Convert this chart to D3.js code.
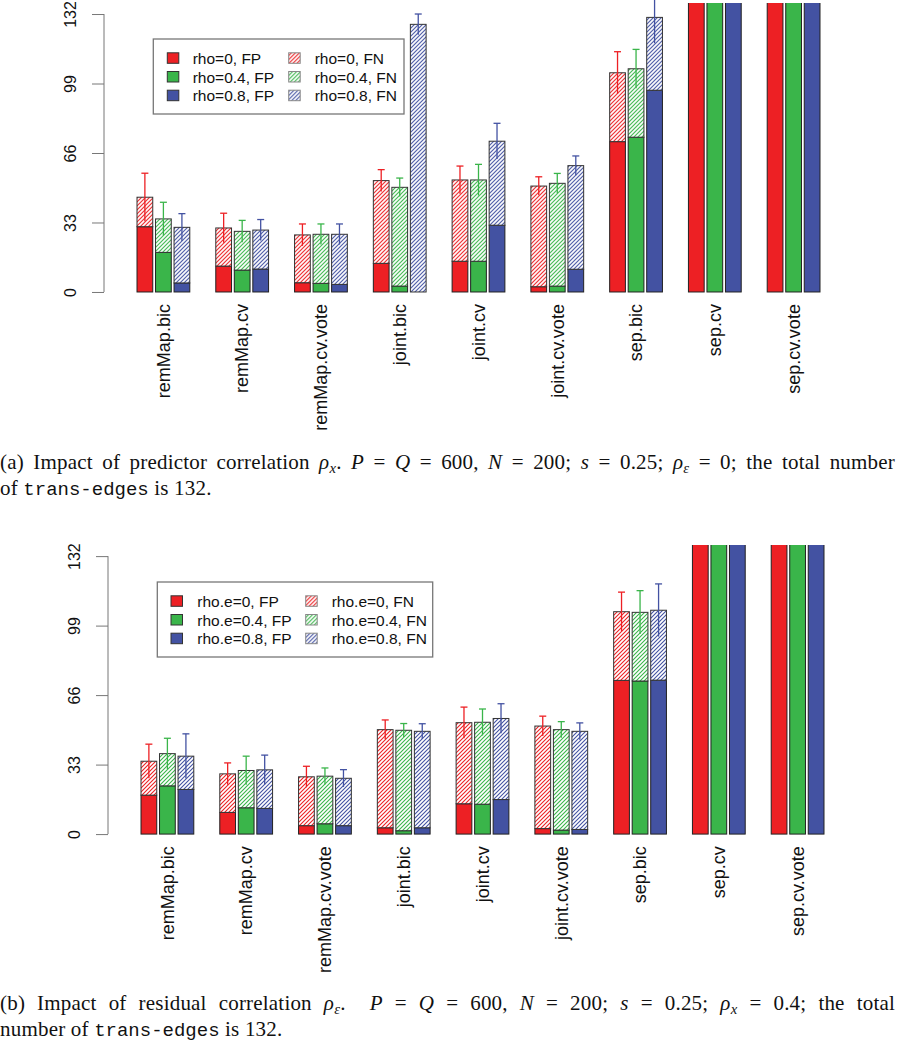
<!DOCTYPE html>
<html lang="en">
<head>
<meta charset="utf-8"/>
<title>remMap FP / FN</title>
<style>
  * { margin: 0; padding: 0; }
  body { width: 897px; height: 1050px; position: relative; background: #fff; }
  svg { position: absolute; left: 0; top: 0; }
  text { font-family: "Liberation Sans", Arial, sans-serif; fill: #111; }
  .cap {
    position: absolute; left: 0; width: 895px;
    font-family: "Liberation Serif", "Times New Roman", serif;
    font-size: 21px; line-height: 26px; color: #111; letter-spacing: 0.2px;
  }
  .cap .j { text-align: justify; text-align-last: justify; }
  .cap sub { font-size: 70%; vertical-align: -0.25em; line-height: 0; }
  .cap .tt { font-family: "Liberation Mono", "DejaVu Sans Mono", monospace; font-size: 19px; letter-spacing: 0; }
</style>
<script src="https://d3js.org/d3.v7.min.js"></script>
</head>
<body>
<svg id="chart" width="897" height="1050"></svg>

<div class="cap" style="top:449px">
  <div class="j">(a) Impact of predictor correlation <i>ρ<sub>x</sub></i>. <i>P</i> = <i>Q</i> = 600, <i>N</i> = 200; <i>s</i> = 0.25; <i>ρ<sub>ε</sub></i> = 0; the total number</div>
  <div>of <span class="tt">trans-edges</span> is 132.</div>
</div>
<div class="cap" style="top:990px">
  <div class="j">(b) Impact of residual correlation <i>ρ<sub>ε</sub></i>.&nbsp; <i>P</i> = <i>Q</i> = 600, <i>N</i> = 200; <i>s</i> = 0.25; <i>ρ<sub>x</sub></i> = 0.4; the total</div>
  <div>number of <span class="tt">trans-edges</span> is 132.</div>
</div>

<script>
// methods on the x axis
const methods = ["remMap.bic", "remMap.cv", "remMap.cv.vote", "joint.bic", "joint.cv",
                 "joint.cv.vote", "sep.bic", "sep.cv", "sep.cv.vote"];
const yTicks = [0, 33, 66, 99, 132];
const colors = ["#ED2024", "#3AB54A", "#4352A2"];
const legendA = ["rho=0", "rho=0.4", "rho=0.8"];
const legendB = ["rho.e=0", "rho.e=0.4", "rho.e=0.8"];

// panel (a): FP count, FP+FN total, sd of total (one row per method, 3 rho values)
// sep.cv / sep.cv.vote run off the top of the plot
const fpA  = [[31.0, 18.8, 4.3], [12.3, 10.4, 10.9], [4.4, 4.1, 3.6], [13.6, 2.8, 0],
              [14.6, 14.6, 31.7], [2.5, 2.8, 10.8], [71.4, 73.5, 95.8], [150, 150, 150], [150, 150, 150]];
const totA = [[45.0, 34.7, 30.7], [30.4, 28.8, 29.4], [27.1, 27.4, 27.4], [52.9, 49.7, 127.1],
              [53.2, 53.2, 71.6], [50.3, 51.6, 60.0], [104.1, 106.0, 130.4], [150, 150, 150], [150, 150, 150]];
const sdA  = [[11.4, 7.9, 6.5], [7.0, 5.2, 5.0], [5.2, 4.9, 4.9], [5.2, 4.4, 4.9],
              [6.6, 7.4, 8.5], [4.4, 4.7, 4.6], [10.0, 9.2, 12.3], [0, 0, 0], [0, 0, 0]];

// panel (b): same layout, rho.e varies
const fpB  = [[18.5, 22.9, 21.2], [10.3, 12.5, 12.2], [4.0, 4.9, 4.0], [3.0, 1.6, 3.0],
              [14.4, 14.2, 16.4], [2.6, 1.9, 2.2], [73.0, 72.7, 73.1], [150, 150, 150], [150, 150, 150]];
const totB = [[34.6, 38.2, 37.0], [28.6, 30.2, 30.5], [27.2, 27.5, 26.5], [49.6, 49.3, 48.8],
              [52.9, 53.1, 54.9], [51.3, 49.6, 48.8], [105.6, 105.3, 106.3], [150, 150, 150], [150, 150, 150]];
const sdB  = [[8.1, 7.3, 10.6], [5.2, 6.8, 7.0], [5.0, 3.9, 4.1], [4.6, 3.2, 3.6],
              [7.4, 6.3, 7.0], [4.7, 3.8, 4.0], [9.3, 10.3, 12.5], [0, 0, 0], [0, 0, 0]];

const svg = d3.select("#chart");
const defs = svg.append("defs");

// hatch patterns for the FN part
colors.forEach(function(c, i) {
  const p = defs.append("pattern")
    .attr("id", "hatch" + i)
    .attr("patternUnits", "userSpaceOnUse")
    .attr("width", 4).attr("height", 4);
  p.append("rect").attr("width", 4).attr("height", 4).attr("fill", "#fff");
  p.append("path")
    .attr("d", "M-1,1 l2,-2 M0,4 l4,-4 M3,5 l2,-2")
    .attr("stroke", c).attr("stroke-width", 1.1);
});

// plot region (R style: ylim 0..132 with 4% extension)
const W = 749, H = 300.2;
const usr = [-5.28, 137.28];

function drawPanel(id, left, top, fp, tot, sd) {
  const g = svg.append("g").attr("transform", `translate(${left},${top})`);

  defs.append("clipPath").attr("id", "clip" + id)
    .append("rect").attr("width", W).attr("height", H);

  const y = d3.scaleLinear().domain(usr).range([H, 0]);
  const x = d3.scaleBand().domain(methods).range([0, W])
    .paddingInner(0.33).paddingOuter(0.419);
  const xs = d3.scaleBand().domain([0, 1, 2]).range([0, x.bandwidth()])
    .paddingInner(0.15).paddingOuter(0);

  // y axis
  const ax = g.append("g")
    .call(d3.axisLeft(y).tickValues(yTicks).tickSize(12).tickSizeOuter(0));
  ax.select(".domain").remove();
  ax.selectAll(".tick line").attr("stroke", "#777");
  ax.append("line")
    .attr("x1", 0).attr("x2", 0)
    .attr("y1", y(yTicks[0])).attr("y2", y(yTicks[yTicks.length - 1]))
    .attr("stroke", "#777");
  ax.selectAll(".tick text")
    .attr("transform", "rotate(-90)")
    .attr("x", 0).attr("y", -34).attr("dy", "0.35em")
    .attr("text-anchor", "middle")
    .style("font-size", "16px")
    .style("font-family", "'Liberation Sans', Arial, sans-serif")
    .attr("fill", "#111");

  const bars = g.append("g").attr("clip-path", `url(#clip${id})`);
  const errs = g.append("g");

  methods.forEach(function(m, i) {
    [0, 1, 2].forEach(function(k) {
      const bx = x(m) + xs(k), bw = xs.bandwidth();
      const f = fp[i][k], t = tot[i][k];
      if (f > 0) {
        bars.append("rect")
          .attr("x", bx).attr("width", bw)
          .attr("y", y(f)).attr("height", y(0) - y(f))
          .attr("fill", colors[k]).attr("stroke", "#222").attr("stroke-width", 1);
      }
      if (t > f) {
        bars.append("rect")
          .attr("x", bx).attr("width", bw)
          .attr("y", y(t)).attr("height", y(f) - y(t))
          .attr("fill", `url(#hatch${k})`).attr("stroke", "#333").attr("stroke-width", 1);
      }
      if (sd[i][k] > 0) {
        const cx = bx + bw / 2;
        errs.append("line")
          .attr("x1", cx).attr("x2", cx)
          .attr("y1", y(t - sd[i][k])).attr("y2", y(t + sd[i][k]))
          .attr("stroke", colors[k]).attr("stroke-width", 1.3);
        errs.append("line")
          .attr("x1", cx - 3.5).attr("x2", cx + 3.5)
          .attr("y1", y(t + sd[i][k])).attr("y2", y(t + sd[i][k]))
          .attr("stroke", colors[k]).attr("stroke-width", 1.3);
      }
    });
  });

  // method labels, vertical
  g.append("g").selectAll("text")
    .data(methods)
    .enter()
    .append("text")
    .attr("transform", d => `translate(${x(d) + x.bandwidth() / 2},${H + 1}) rotate(-90)`)
    .attr("dy", "0.35em")
    .attr("text-anchor", "end")
    .style("font-size", "18px")
    .text(d => d);
}

function drawLegend(left, top, w, h, labels, colX, textX) {
  const lg = svg.append("g").attr("transform", `translate(${left},${top})`);
  lg.append("rect").attr("width", w).attr("height", h)
    .attr("fill", "#fff").attr("stroke", "#777").attr("stroke-width", 1.3);
  labels.forEach(function(lab, k) {
    const ry = 19.3 + k * 18.7;
    [0, 1].forEach(function(c) {
      lg.append("rect")
        .attr("x", colX[c]).attr("y", ry - 5.5).attr("width", 11.5).attr("height", 10.5)
        .attr("fill", c === 0 ? colors[k] : `url(#hatch${k})`)
        .attr("stroke", c === 0 ? "#333" : "#888").attr("stroke-width", 1);
      lg.append("text")
        .attr("x", textX[c]).attr("y", ry).attr("dy", "0.36em")
        .style("font-size", "15.5px")
        .text(lab + (c === 0 ? ", FP" : ", FN"));
    });
  });
}

drawPanel("a", 104, 2.9, fpA, totA, sdA);
drawPanel("b", 108, 545, fpB, totB, sdB);

drawLegend(153.3, 39, 250.7, 75, legendA, [14, 135.4], [39.4, 161.4]);
drawLegend(157.3, 582, 275.4, 75, legendB, [13.7, 148.4], [40, 174.4]);
</script>
</body>
</html>
